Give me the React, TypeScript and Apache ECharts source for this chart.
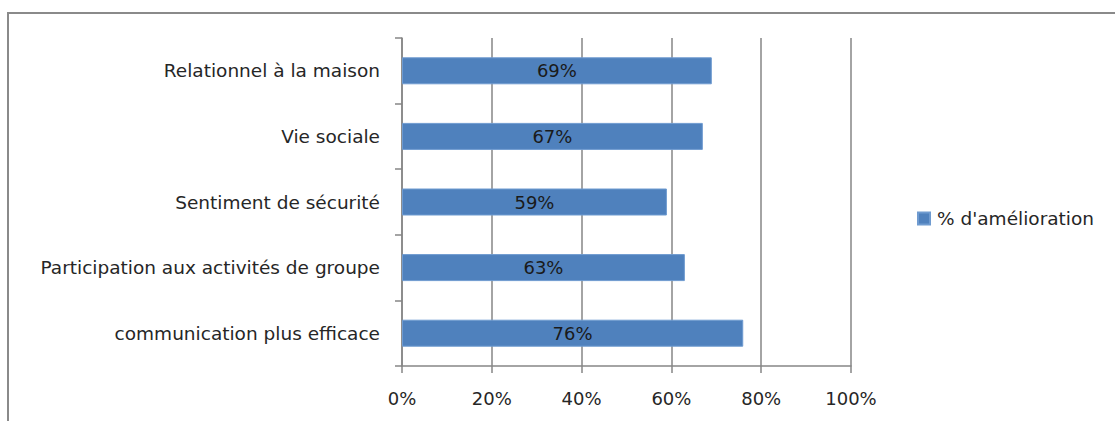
import React, { useEffect, useRef } from "react";
import * as echarts from "echarts";

const categories = [
  "communication plus efficace",
  "Participation aux activités de groupe",
  "Sentiment de sécurité",
  "Vie sociale",
  "Relationnel à la maison",
];
const values = [76, 63, 59, 67, 69];
const seriesName = "% d'amélioration";
const xTicks = [0, 20, 40, 60, 80, 100];

const FONT = "DejaVu Sans";

export default function App() {
  const ref = useRef<HTMLDivElement>(null);
  useEffect(() => {
    document.body.style.margin = "0";
    const chart = echarts.init(ref.current!, null, { renderer: "svg" });
    chart.setOption({
      animation: false,
      backgroundColor: "#ffffff",
      textStyle: { fontFamily: FONT },
      graphic: [
        {
          type: "rect",
          shape: { x: 8, y: 13, width: 1130, height: 430 },
          style: { fill: "none", stroke: "#8a8a8a", lineWidth: 2 },
          silent: true,
        },
      ],
      legend: {
        data: [seriesName],
        left: 917,
        top: 209,
        padding: 0,
        itemWidth: 12,
        itemHeight: 12,
        itemGap: 6,
        icon: "rect",
        textStyle: { fontFamily: FONT, fontSize: 18.5, color: "#262626", padding: [0, 0, 0, 2] },
      },
      grid: { left: 402, top: 38, width: 449, height: 328, containLabel: false },
      xAxis: {
        type: "value",
        min: xTicks[0],
        max: xTicks[xTicks.length - 1],
        interval: 20,
        axisLine: { show: true, lineStyle: { color: "#868686", width: 1.5 } },
        axisTick: { show: true, length: 7, lineStyle: { color: "#868686", width: 1.5 } },
        axisLabel: {
          formatter: (v: number) => v + "%",
          fontFamily: FONT,
          fontSize: 18,
          color: "#262626",
          margin: 23,
        },
        splitLine: { show: true, lineStyle: { color: "#868686", width: 1.5 } },
      },
      yAxis: {
        type: "category",
        data: categories,
        axisLine: { show: true, lineStyle: { color: "#868686", width: 1.5 } },
        axisTick: { show: true, length: 7, lineStyle: { color: "#868686", width: 1.5 } },
        axisLabel: {
          fontFamily: FONT,
          fontSize: 18.5,
          color: "#262626",
          margin: 22,
        },
      },
      series: [
        {
          name: seriesName,
          type: "bar",
          data: values,
          barWidth: 27,
          itemStyle: { color: "#4F81BD", borderColor: "#6f9bd0", borderWidth: 1 },
          label: {
            show: true,
            position: "inside",
            formatter: (p: any) => p.value + "%",
            fontFamily: FONT,
            fontSize: 18,
            color: "#1a1a1a",
          },
        },
      ],
    });
    return () => chart.dispose();
  }, []);
  return <div ref={ref} style={{ width: 1115, height: 421 }} />;
}
